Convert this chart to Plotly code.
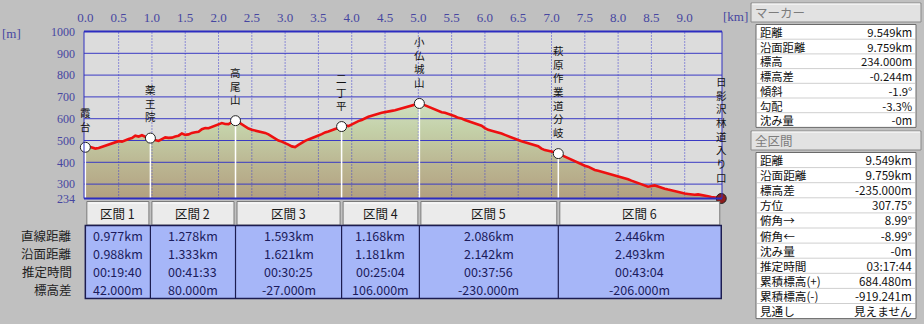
import plotly.graph_objects as go

W, H = 924, 324
FONT = "Noto Sans CJK JP"
TICK_FONT = "Liberation Serif"

# ---------------- data ----------------
distance_km = [
    0, 0.05, 0.1, 0.15, 0.2, 0.25, 0.3, 0.35, 0.4, 0.45, 0.5, 0.55, 0.6, 0.65, 0.7, 0.75, 0.8, 0.85, 0.9, 0.95, 0.977,
    1.0, 1.05, 1.1, 1.15, 1.2, 1.25, 1.3, 1.35, 1.4, 1.45, 1.5, 1.55, 1.6, 1.65, 1.7, 1.75, 1.8, 1.85, 1.9, 1.95,
    2.0, 2.05, 2.1, 2.15, 2.2, 2.255,
    2.3, 2.35, 2.4, 2.45, 2.5, 2.55, 2.6, 2.65, 2.7, 2.75, 2.8, 2.85, 2.9, 2.95, 3.0, 3.05, 3.1, 3.15, 3.2, 3.25,
    3.3, 3.35, 3.4, 3.45, 3.5, 3.55, 3.6, 3.65, 3.7, 3.75, 3.8, 3.848,
    3.9, 3.95, 4.0, 4.05, 4.1, 4.15, 4.2, 4.25, 4.3, 4.35, 4.4, 4.45, 4.5, 4.55, 4.6, 4.65, 4.7, 4.75, 4.8, 4.85,
    4.9, 4.95, 5.016,
    5.05, 5.1, 5.15, 5.2, 5.25, 5.3, 5.35, 5.4, 5.45, 5.5, 5.55, 5.6, 5.65, 5.7, 5.75, 5.8, 5.85, 5.9, 5.95, 6.0,
    6.05, 6.1, 6.15, 6.2, 6.25, 6.3, 6.35, 6.4, 6.45, 6.5, 6.55, 6.6, 6.65, 6.7, 6.75, 6.8, 6.85, 6.9, 6.95, 7.0,
    7.05, 7.102,
    7.15, 7.2, 7.25, 7.3, 7.35, 7.4, 7.45, 7.5, 7.55, 7.6, 7.65, 7.7, 7.75, 7.8, 7.85, 7.9, 7.95, 8.0, 8.05, 8.1,
    8.15, 8.2, 8.25, 8.3, 8.35, 8.4, 8.45, 8.5, 8.55, 8.6, 8.65, 8.7, 8.75, 8.8, 8.85, 8.9, 8.95, 9.0, 9.05, 9.1,
    9.15, 9.2, 9.25, 9.3, 9.35, 9.4, 9.45, 9.5, 9.549,
]
elevation_m = [
    469, 472, 468, 463, 466, 471, 475, 482, 486, 493, 497, 495, 502, 507, 511, 522, 518, 524, 517, 514, 511,
    506, 502, 498, 506, 514, 512, 513, 518, 522, 532, 526, 528, 535, 538, 540, 552, 557, 556, 562, 566,
    574, 580, 576, 575, 584, 591,
    584, 574, 566, 555, 549, 546, 543, 540, 535, 528, 519, 508, 500, 495, 489, 481, 473, 470, 480, 490,
    498, 505, 512, 518, 523, 529, 537, 541, 548, 553, 557, 564,
    570, 566, 574, 580, 589, 594, 602, 609, 614, 620, 623, 627, 629, 634, 636, 639, 643, 648, 651, 655,
    659, 664, 670,
    668, 662, 655, 650, 642, 635, 630, 627, 622, 619, 611, 604, 601, 594, 589, 585, 580, 573, 568, 557,
    549, 545, 541, 538, 532, 526, 520, 514, 506, 501, 497, 492, 488, 485, 480, 474, 463, 456, 453, 451,
    446, 440,
    433, 426, 419, 413, 405, 397, 389, 384, 380, 372, 365, 361, 357, 352, 346, 342, 339, 334, 330, 328,
    322, 316, 311, 305, 300, 294, 288, 291, 294, 289, 283, 279, 275, 271, 266, 263, 259, 257, 255, 252,
    251, 253, 249, 247, 244, 241, 240, 237, 234,
]

waypoint_names = ["霞台", "薬王院", "高尾山", "二丁平", "小仏城山", "萩原作業道分岐", "日影沢林道入り口"]
waypoint_km = [0, 0.977, 2.255, 3.848, 5.016, 7.102, 9.549]
waypoint_elev = [469, 511, 591, 564, 670, 440, 234]

section_labels = ["区間 1", "区間 2", "区間 3", "区間 4", "区間 5", "区間 6"]
row_labels = ["直線距離", "沿面距離", "推定時間", "標高差"]
straight_km = ["0.977km", "1.278km", "1.593km", "1.168km", "2.086km", "2.446km"]
surface_km = ["0.988km", "1.333km", "1.621km", "1.181km", "2.142km", "2.493km"]
est_time = ["00:19:40", "00:41:33", "00:30:25", "00:25:04", "00:37:56", "00:43:04"]
elev_diff = ["42.000m", "80.000m", "-27.000m", "106.000m", "-230.000m", "-206.000m"]

x_ticks = [0.0, 0.5, 1.0, 1.5, 2.0, 2.5, 3.0, 3.5, 4.0, 4.5, 5.0, 5.5, 6.0, 6.5, 7.0, 7.5, 8.0, 8.5, 9.0]
y_ticks = [234, 300, 400, 500, 600, 700, 800, 900, 1000]

marker_title = "マーカー"
marker_labels = ["距離", "沿面距離", "標高", "標高差", "傾斜", "勾配", "沈み量"]
marker_values = ["9.549km", "9.759km", "234.000m", "-0.244m", "-1.9°", "-3.3%", "-0m"]
total_title = "全区間"
total_labels = ["距離", "沿面距離", "標高差", "方位", "俯角→", "俯角←", "沈み量", "推定時間",
                "累積標高(+)", "累積標高(-)", "見通し"]
total_values = ["9.549km", "9.759km", "-235.000m", "307.75°", "8.99°", "-8.99°", "-0m", "03:17:44",
                "684.480m", "-919.241m", "見えません"]

# ---------------- layout helpers ----------------
def fx(px):
    return px / W


def fy(py):
    return 1 - py / H


def text(x, y, s, xref="paper", yref="paper", xanchor="center", size=12.5, color="#111111", yshift=0,
         align="center", family=FONT):
    return dict(x=x, y=y, xref=xref, yref=yref, text=s, showarrow=False, xanchor=xanchor, align=align,
                yanchor="middle", yshift=yshift, font=dict(family=family, size=size, color=color))


PL, PR, PT, PB = 84, 722, 31.5, 198.5
XR = [-0.02, 9.56]
YR = [234, 1000]
PX_PER_KM = (PR - PL) / (XR[1] - XR[0])

fig = go.Figure()

# filled profile
fig.add_trace(go.Scatter(
    x=distance_km, y=elevation_m, mode="lines", line=dict(width=0, color="rgba(0,0,0,0)"),
    fill="tozeroy",
    fillgradient=dict(type="vertical", start=YR[0], stop=680,
                      colorscale=[[0, "#b2a080"], [0.35, "#bbb692"], [0.7, "#c4d0a8"], [1, "#d0e0c2"]]),
    hoverinfo="skip",
))

# horizontal grid (above fill)
gx, gy = [], []
for t in y_ticks:
    gx += [XR[0], XR[1], None]
    gy += [t, t, None]
fig.add_trace(go.Scatter(x=gx, y=gy, mode="lines", line=dict(color="#3a3ac4", width=1), hoverinfo="skip"))

# vertical dotted grid
vx, vy = [], []
for t in x_ticks[1:]:
    vx += [t, t, None]
    vy += [YR[0], YR[1], None]
fig.add_trace(go.Scatter(x=vx, y=vy, mode="lines", line=dict(color="#3c3cd0", width=1, dash="1px,2px"),
                         hoverinfo="skip"))

# stems from waypoints
sx, sy = [], []
for k, e in zip(waypoint_km, waypoint_elev):
    sx += [k, k, None]
    sy += [YR[0], e, None]
fig.add_trace(go.Scatter(x=sx, y=sy, mode="lines", line=dict(color="white", width=1.5), hoverinfo="skip",
                         cliponaxis=False))

# red profile line
fig.add_trace(go.Scatter(x=distance_km, y=elevation_m, mode="lines",
                         line=dict(color="#ee1010", width=2.6), hoverinfo="skip"))

# waypoint markers
fig.add_trace(go.Scatter(x=waypoint_km[:-1], y=waypoint_elev[:-1], mode="markers",
                         marker=dict(size=10, color="white", line=dict(color="#222222", width=1)),
                         cliponaxis=False, hoverinfo="skip"))
# hiker marker at end
fig.add_trace(go.Scatter(x=waypoint_km[-1:], y=waypoint_elev[-1:], mode="markers",
                         marker=dict(size=10, color="#8e1c1c", line=dict(color="#222222", width=1)),
                         cliponaxis=False, hoverinfo="skip"))

shapes = []
ann = []

# plot border
shapes.append(dict(type="rect", xref="paper", yref="paper", x0=fx(PL), x1=fx(PR), y0=fy(PB), y1=fy(PT),
                   line=dict(color="#3030c0", width=1)))
shapes.append(dict(type="line", xref="paper", yref="paper", x0=fx(PL), x1=fx(PR), y0=fy(PT), y1=fy(PT),
                   line=dict(color="#2c2cc0", width=2)))
shapes.append(dict(type="line", xref="paper", yref="paper", x0=fx(PL), x1=fx(PR), y0=fy(PB), y1=fy(PB),
                   line=dict(color="#2c2cc0", width=2)))

# vertical waypoint labels (one stacked text per waypoint; plotly line height = 1.3 em)
LBL_SIZE = 10.5
STEP = LBL_SIZE * 1.3
for name, k, e in zip(waypoint_names, waypoint_km, waypoint_elev):
    n = len(name)
    ann.append(text(k, e, "<br>".join(name), xref="x", yref="y", size=LBL_SIZE,
                    yshift=21 + (n - 1) * STEP / 2))

ann.append(text(fx(11), fy(33), "[m]", color="#4646a0", size=13, family=TICK_FONT))
ann.append(text(fx(735), fy(16), "[km]", color="#4646a0", size=13, family=TICK_FONT))

# ---------------- section table ----------------
HT, HB = 201.5, 225.0
DT, DB = 225.5, 298.5
row_y = [235.5, 253.5, 271.3, 289.3]
gap = 1.5 / PX_PER_KM
for i, lab in enumerate(section_labels):
    a, b = waypoint_km[i], waypoint_km[i + 1]
    shapes.append(dict(type="rect", xref="x", yref="paper", x0=a + gap, x1=b - gap, y0=fy(HB), y1=fy(HT),
                       fillcolor="#ebebeb", line=dict(color="#7a7a7a", width=1)))
    shapes.append(dict(type="line", xref="x", yref="paper", x0=a + gap * 2, x1=b - gap * 2,
                       y0=fy(HT + 1.5), y1=fy(HT + 1.5), line=dict(color="white", width=1)))
    ann.append(text((a + b) / 2, fy((HT + HB) / 2), lab, xref="x", color="#1a1a1a"))

shapes.append(dict(type="rect", xref="x", yref="paper", x0=waypoint_km[0], x1=waypoint_km[-1],
                   y0=fy(DB), y1=fy(DT), fillcolor="#a6b6f8", line=dict(color="#1c1c50", width=1.5)))
for k in waypoint_km[1:-1]:
    shapes.append(dict(type="line", xref="x", yref="paper", x0=k, x1=k, y0=fy(DB), y1=fy(DT),
                       line=dict(color="#1c1c50", width=1.2)))

for r, (lab, vals) in enumerate(zip(row_labels, [straight_km, surface_km, est_time, elev_diff])):
    ann.append(text(fx(74), fy(row_y[r]), lab, xanchor="right", color="#1e1e1e"))
    for i, v in enumerate(vals):
        a, b = waypoint_km[i], waypoint_km[i + 1]
        ann.append(text((a + b) / 2, fy(row_y[r]), v, xref="x", color="#1c1c5c"))

# ---------------- right info panel ----------------
def panel(title, labels, values, top, step):
    ht, hb = top, top + 19
    shapes.append(dict(type="rect", xref="paper", yref="paper", x0=fx(751), x1=fx(921), y0=fy(hb), y1=fy(ht),
                       fillcolor="#e2e2e2", line=dict(color="#8a8a8a", width=1)))
    shapes.append(dict(type="line", xref="paper", yref="paper", x0=fx(752), x1=fx(920), y0=fy(ht + 1),
                       y1=fy(ht + 1), line=dict(color="white", width=1)))
    ann.append(text(fx(753), fy((ht + hb) / 2), title, xanchor="left", color="#7c7c7c"))
    bt = hb + 2.5
    bb = bt + step * len(labels)
    shapes.append(dict(type="rect", xref="paper", yref="paper", x0=fx(756), x1=fx(916), y0=fy(bb), y1=fy(bt),
                       fillcolor="white", line=dict(color="#6a6a6a", width=1)))
    for i in range(1, len(labels)):
        shapes.append(dict(type="line", xref="paper", yref="paper", x0=fx(757), x1=fx(915),
                           y0=fy(bt + step * i), y1=fy(bt + step * i),
                           line=dict(color="#cfcfcf", width=1)))
    size = step / 1.3
    cy = (bt + bb) / 2
    ann.append(text(fx(758), fy(cy), "<br>".join(labels), xanchor="left", align="left", size=size))
    ann.append(text(fx(914), fy(cy), "<br>".join(values), xanchor="right", align="right", size=size))


panel(marker_title, marker_labels, marker_values, 3, 14.7)
panel(total_title, total_labels, total_values, 131, 15.1)

fig.update_layout(
    width=W, height=H, margin=dict(l=0, r=0, t=0, b=0),
    paper_bgcolor="#c0c0c0", plot_bgcolor="#dcdcdc", showlegend=False,
    shapes=shapes, annotations=ann,
    xaxis=dict(domain=[fx(PL), fx(PR)], range=XR, side="top", tickvals=x_ticks,
               ticktext=[f"{v:.1f}" for v in x_ticks], showgrid=False, zeroline=False, ticks="",
               automargin=False, ticklabelstandoff=6,
               tickfont=dict(family=TICK_FONT, size=13, color="#4646a0"), fixedrange=True),
    yaxis=dict(domain=[fy(PB), fy(PT)], range=YR, tickvals=y_ticks, ticktext=[str(v) for v in y_ticks],
               showgrid=False, zeroline=False, ticks="", automargin=False, ticklabelstandoff=8,
               tickfont=dict(family=TICK_FONT, size=12, color="#4646a0"), fixedrange=True),
)

fig.write_html("out.html")
